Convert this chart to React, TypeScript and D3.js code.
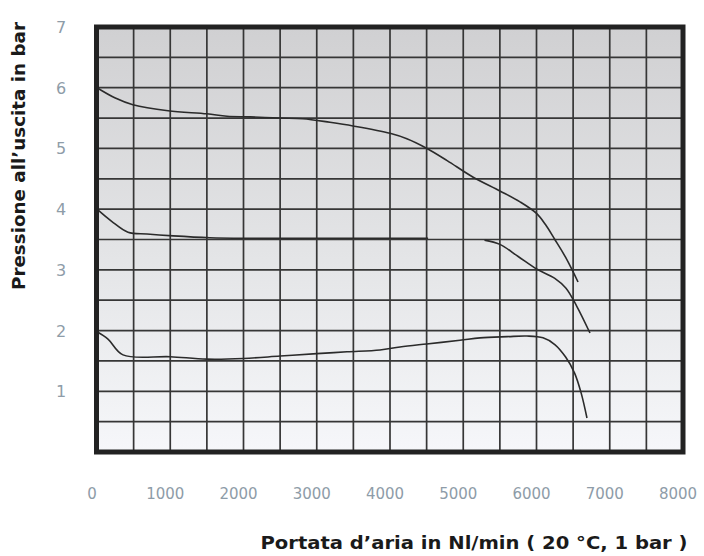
import { useEffect, useRef } from 'react';
import * as d3 from 'd3';

// Flow (Nl/min) and outlet pressure (bar)
const curve6Flow = [0, 250, 490, 970, 1500, 1775, 2090, 2500, 2810, 3180, 3495, 4000, 4230, 4505, 4780, 5130, 5500, 5775, 6000, 6120, 6250, 6400, 6567];
const curve6Pres = [6.0, 5.83, 5.72, 5.62, 5.57, 5.53, 5.52, 5.5, 5.49, 5.43, 5.37, 5.25, 5.16, 5.0, 4.8, 4.53, 4.3, 4.12, 3.93, 3.75, 3.5, 3.2, 2.8];

const curve4aFlow = [0, 200, 423, 683, 1040, 1540, 2000, 3000, 4000, 4520];
const curve4aPres = [4.0, 3.8, 3.62, 3.59, 3.56, 3.53, 3.52, 3.52, 3.52, 3.52];

const curve4bFlow = [5290, 5500, 5750, 6007, 6250, 6400, 6550, 6730];
const curve4bPres = [3.49, 3.42, 3.22, 3.01, 2.86, 2.7, 2.4, 1.96];

const curve2Flow = [0, 150, 355, 1000, 1500, 2000, 2500, 3000, 3413, 3863, 4136, 4500, 4956, 5229, 5600, 5870, 6089, 6250, 6400, 6520, 6610, 6689];
const curve2Pres = [1.98, 1.86, 1.6, 1.57, 1.53, 1.54, 1.58, 1.62, 1.65, 1.68, 1.73, 1.78, 1.84, 1.88, 1.9, 1.91, 1.88, 1.77, 1.56, 1.3, 0.97, 0.56];

const xTicks = [0, 1000, 2000, 3000, 4000, 5000, 6000, 7000, 8000];
const yTicks = [1, 2, 3, 4, 5, 6, 7];

const LINE = '#2b2b2b';
const TICK_COLOR = '#8e9ca8';

export default function App() {
  const svgRef = useRef<SVGSVGElement>(null);

  useEffect(() => {
    if (!svgRef.current) return;
    const svg = d3.select(svgRef.current);
    svg.selectAll('*').remove();

    const x = d3.scaleLinear().domain([0, 8000]).range([97, 683]);
    const y = d3.scaleLinear().domain([0, 7]).range([452, 27]);

    const defs = svg.append('defs');
    const grad = defs.append('linearGradient')
      .attr('id', 'bg')
      .attr('x1', 0).attr('y1', 0).attr('x2', 0).attr('y2', 1);
    grad.append('stop').attr('offset', '0%').attr('stop-color', '#d0d0d2');
    grad.append('stop').attr('offset', '55%').attr('stop-color', '#e4e5e7');
    grad.append('stop').attr('offset', '100%').attr('stop-color', '#f6f7fa');

    // plot background
    svg.append('rect')
      .attr('x', x(0)).attr('y', y(7))
      .attr('width', x(8000) - x(0))
      .attr('height', y(0) - y(7))
      .attr('fill', 'url(#bg)');

    // grid every 500 Nl/min and 0.5 bar
    const grid = svg.append('g');
    grid.selectAll('line.v')
      .data(d3.range(500, 8000, 500))
      .join('line')
      .attr('x1', d => x(d)).attr('x2', d => x(d))
      .attr('y1', y(0)).attr('y2', y(7))
      .attr('stroke', '#363636').attr('stroke-width', 1.7);
    grid.selectAll('line.h')
      .data(d3.range(0.5, 7, 0.5))
      .join('line')
      .attr('x1', x(0)).attr('x2', x(8000))
      .attr('y1', d => y(d)).attr('y2', d => y(d))
      .attr('stroke', '#363636').attr('stroke-width', 1.7);

    // curves
    const line = d3.line<[number, number]>()
      .x(d => x(d[0]))
      .y(d => y(d[1]))
      .curve(d3.curveCatmullRom.alpha(0.5));

    const series: [number[], number[]][] = [
      [curve6Flow, curve6Pres],
      [curve4aFlow, curve4aPres],
      [curve4bFlow, curve4bPres],
      [curve2Flow, curve2Pres],
    ];
    svg.append('g').selectAll('path')
      .data(series)
      .join('path')
      .attr('d', ([f, p]) => line(f.map((v, i) => [v, p[i]] as [number, number])))
      .attr('fill', 'none')
      .attr('stroke', LINE)
      .attr('stroke-width', 1.6);

    // thick frame
    svg.append('rect')
      .attr('x', x(0) - 0.5).attr('y', y(7))
      .attr('width', x(8000) - x(0) + 0.5)
      .attr('height', y(0) - y(7))
      .attr('fill', 'none')
      .attr('stroke', '#222')
      .attr('stroke-width', 5);

    // tick labels
    svg.append('g').selectAll('text')
      .data(xTicks)
      .join('text')
      .attr('x', d => x(d) - 5)
      .attr('y', 499)
      .attr('text-anchor', 'middle')
      .attr('font-family', 'DejaVu Sans, sans-serif')
      .attr('font-size', 15)
      .attr('fill', TICK_COLOR)
      .text(d => d);

    svg.append('g').selectAll('text')
      .data(yTicks)
      .join('text')
      .attr('x', 61)
      .attr('y', d => y(d) + 6)
      .attr('text-anchor', 'middle')
      .attr('font-family', 'DejaVu Sans, sans-serif')
      .attr('font-size', 16)
      .attr('fill', TICK_COLOR)
      .text(d => d);

    // axis titles
    svg.append('text')
      .attr('transform', 'translate(25,156) rotate(-90)')
      .attr('text-anchor', 'middle')
      .attr('font-family', 'DejaVu Sans, sans-serif')
      .attr('font-weight', 'bold')
      .attr('font-size', 17)
      .attr('textLength', 268)
      .attr('lengthAdjust', 'spacingAndGlyphs')
      .attr('fill', '#1a1a1a')
      .text('Pressione all\u2019uscita in bar');

    svg.append('text')
      .attr('x', 474)
      .attr('y', 549)
      .attr('text-anchor', 'middle')
      .attr('font-family', 'DejaVu Sans, sans-serif')
      .attr('font-weight', 'bold')
      .attr('font-size', 18)
      .attr('textLength', 427)
      .attr('lengthAdjust', 'spacingAndGlyphs')
      .attr('fill', '#1a1a1a')
      .text('Portata d\u2019aria in Nl/min (  20 \u00b0C, 1 bar )');
  }, []);

  return (
    <svg
      ref={svgRef}
      width={704}
      height={556}
      style={{ position: 'absolute', left: 0, top: 0, background: '#fff' }}
    />
  );
}
